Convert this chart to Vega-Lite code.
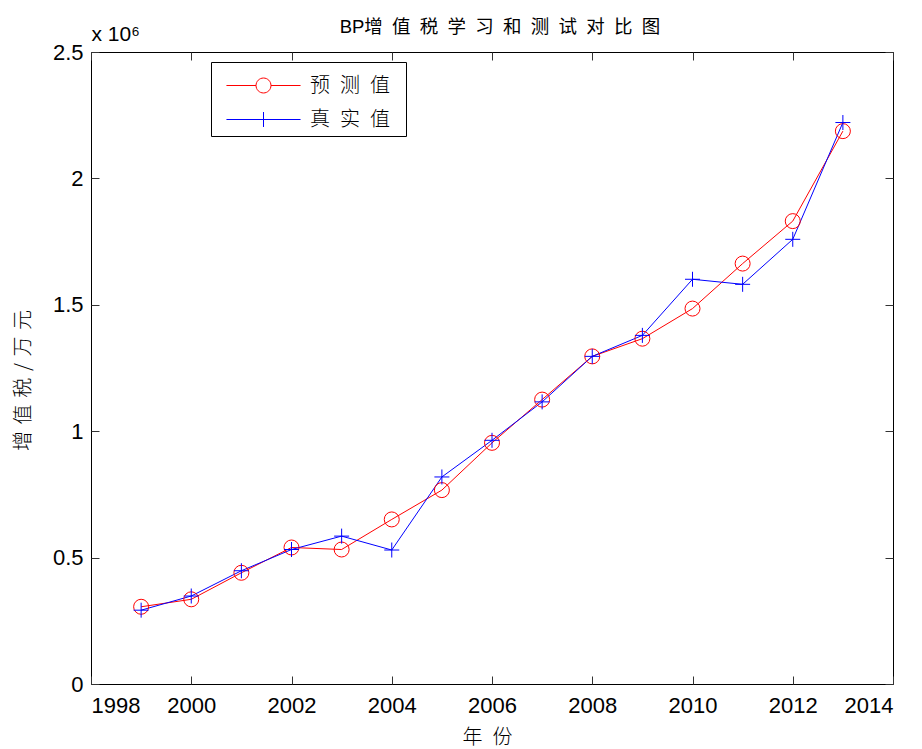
{
  "$schema": "https://vega.github.io/schema/vega-lite/v6.json",
  "width": 802,
  "height": 632,
  "autosize": {"type": "none"},
  "padding": {"left": 91, "top": 52, "right": 29, "bottom": 65},
  "background": "white",
  "title": {
    "text": "BP增\u2002值\u2002税\u2002学\u2002习\u2002和\u2002测\u2002试\u2002对\u2002比\u2002图",
    "font": "Liberation Sans, Noto Sans CJK SC",
    "fontSize": 18.5,
    "fontWeight": "normal",
    "color": "#000000",
    "anchor": "middle",
    "dx": 8,
    "dy": 17
  },
  "data": {
    "values": [
      {"year": 1999, "series": "预测值", "value": 305500},
      {"year": 2000, "series": "预测值", "value": 335000},
      {"year": 2001, "series": "预测值", "value": 440000},
      {"year": 2002, "series": "预测值", "value": 540000},
      {"year": 2003, "series": "预测值", "value": 532000},
      {"year": 2004, "series": "预测值", "value": 651000},
      {"year": 2005, "series": "预测值", "value": 767000},
      {"year": 2006, "series": "预测值", "value": 954000},
      {"year": 2007, "series": "预测值", "value": 1125000},
      {"year": 2008, "series": "预测值", "value": 1296000},
      {"year": 2009, "series": "预测值", "value": 1366000},
      {"year": 2010, "series": "预测值", "value": 1485000},
      {"year": 2011, "series": "预测值", "value": 1663000},
      {"year": 2012, "series": "预测值", "value": 1831000},
      {"year": 2013, "series": "预测值", "value": 2187000},
      {"year": 1999, "series": "真实值", "value": 292000},
      {"year": 2000, "series": "真实值", "value": 348000},
      {"year": 2001, "series": "真实值", "value": 448000},
      {"year": 2002, "series": "真实值", "value": 532000},
      {"year": 2003, "series": "真实值", "value": 585000},
      {"year": 2004, "series": "真实值", "value": 530000},
      {"year": 2005, "series": "真实值", "value": 819000},
      {"year": 2006, "series": "真实值", "value": 964000},
      {"year": 2007, "series": "真实值", "value": 1116000},
      {"year": 2008, "series": "真实值", "value": 1296000},
      {"year": 2009, "series": "真实值", "value": 1379000},
      {"year": 2010, "series": "真实值", "value": 1601000},
      {"year": 2011, "series": "真实值", "value": 1581000},
      {"year": 2012, "series": "真实值", "value": 1759000},
      {"year": 2013, "series": "真实值", "value": 2221000}
    ]
  },
  "layer": [
    {
      "mark": {"type": "line", "strokeWidth": 1},
      "encoding": {
        "x": {
          "field": "year", "type": "quantitative",
          "scale": {"domain": [1998, 2014], "nice": false, "zero": false},
          "axis": {
            "orient": "bottom",
            "values": [1998, 2000, 2002, 2004, 2006, 2008, 2010, 2012, 2014],
            "format": "d",
            "title": "年\u2002份",
            "titleFont": "Noto Sans CJK SC",
            "titleFontWeight": 300,
            "titleFontSize": 20,
            "titleX": 396,
            "titleY": 43,
            "titleAlign": "center",
            "titleBaseline": "top",
            "labelPadding": 19
          }
        },
        "y": {
          "field": "value", "type": "quantitative",
          "scale": {"domain": [0, 2500000], "nice": false},
          "axis": {
            "orient": "left",
            "values": [0, 500000, 1000000, 1500000, 2000000, 2500000],
            "labelExpr": "format(datum.value / 1000000, '~g')",
            "title": "增\u2004值\u2004税\u2004/\u2004万\u2004元",
            "titleFont": "Noto Sans CJK SC",
            "titleFontWeight": 300,
            "titleFontSize": 20,
            "titleAngle": -90,
            "titleX": -68,
            "titleY": 328,
            "titleAlign": "center",
            "titleBaseline": "middle",
            "labelPadding": 16
          }
        },
        "color": {
          "field": "series", "type": "nominal",
          "scale": {"domain": ["预测值", "真实值"], "range": ["#ff0000", "#0000ff"]},
          "legend": {
            "title": null,
            "orient": "none",
            "legendX": 120,
            "legendY": 10,
            "fillColor": "white",
            "strokeColor": "#000000",
            "padding": 6,
            "symbolSize": 1156,
            "symbolOffset": 29,
            "labelOffset": 29,
            "rowPadding": 6,
            "labelFont": "Noto Sans CJK SC",
            "labelFontWeight": 300,
            "labelFontSize": 20,
            "labelColor": "#000000",
            "labelExpr": "join(split(datum.label, ''), '\u2002') + '\u2002\u200b'",
            "encode": {
              "symbols": {
                "update": {
                  "shape": {"signal": "datum.value === '预测值' ? 'M-2.18,0H-0.44A0.44,0.44 0 1 1 0.44,0H2.18M0.44,0A0.44,0.44 0 1 1 -0.44,0' : 'M-2.18,0H2.18M0,-0.44V0.44'"},
                  "stroke": {"signal": "datum.value === '预测值' ? '#ff0000' : '#4d4dff'"},
                  "fill": {"value": "transparent"},
                  "strokeWidth": {"value": 1},
                  "strokeOpacity": {"value": 1},
                  "opacity": {"value": 1}
                }
              }
            }
          }
        }
      }
    },
    {
      "transform": [{"filter": "datum.series === '预测值'"}],
      "mark": {"type": "point", "filled": false, "size": 225, "strokeWidth": 1, "opacity": 1, "shape": "circle", "color": "#ff0000"},
      "encoding": {
        "x": {"field": "year", "type": "quantitative", "axis": null},
        "y": {"field": "value", "type": "quantitative", "axis": null}
      }
    },
    {
      "transform": [{"filter": "datum.series === '真实值'"}],
      "mark": {"type": "point", "filled": false, "size": 225, "strokeWidth": 1, "opacity": 1, "shape": "M-1,0H1M0,-1V1", "color": "#0000ff"},
      "encoding": {
        "x": {
          "field": "year", "type": "quantitative",
          "axis": {
            "orient": "top",
            "values": [1998, 2000, 2002, 2004, 2006, 2008, 2010, 2012, 2014],
            "labels": false,
            "title": "x 10⁶",
            "titleFont": "Liberation Sans",
            "titleFontSize": 21,
            "titleFontWeight": "normal",
            "titleX": 0,
            "titleY": -12,
            "titleAlign": "left",
            "titleBaseline": "alphabetic",
            "titleAngle": 0
          }
        },
        "y": {
          "field": "value", "type": "quantitative",
          "axis": {
            "orient": "right",
            "values": [0, 500000, 1000000, 1500000, 2000000, 2500000],
            "labels": false,
            "title": null
          }
        }
      }
    }
  ],
  "resolve": {"axis": {"x": "independent", "y": "independent"}},
  "config": {
    "view": {"stroke": "#000000", "strokeWidth": 1},
    "axis": {
      "domain": false,
      "grid": false,
      "ticks": true,
      "tickSize": -8,
      "tickColor": "#333333",
      "tickWidth": 1,
      "labelFont": "Liberation Sans",
      "labelFontSize": 22,
      "labelColor": "#000000",
      "titleColor": "#000000"
    }
  }
}
